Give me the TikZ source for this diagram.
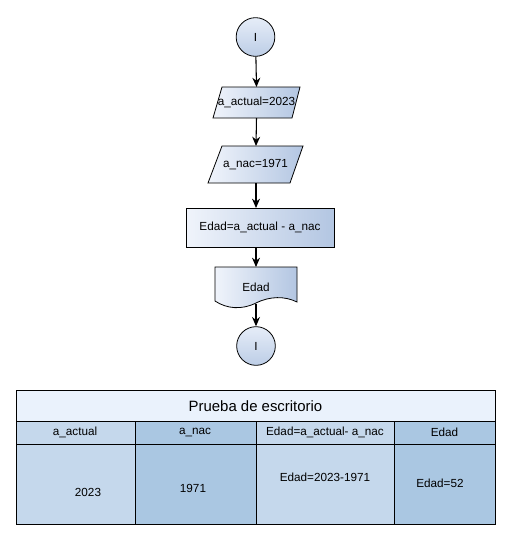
\documentclass[tikz,border=0pt]{standalone}
\usepackage{fontspec}
\setmainfont{Liberation Sans}
\usetikzlibrary{shapes.geometric,arrows.meta}
\definecolor{gl}{HTML}{F0F4FB}
\definecolor{gd}{HTML}{B3C6E2}
\definecolor{cl}{HTML}{E6EDF8}
\definecolor{cd}{HTML}{BCCDE6}
\definecolor{thead}{HTML}{EAF2FC}
\definecolor{tca}{HTML}{C5D8EC}
\definecolor{tcb}{HTML}{AAC7E2}
\begin{document}
\begin{tikzpicture}[x=0.75pt,y=-0.75pt,
  every node/.style={font=\fontsize{8.8}{10}\selectfont, inner sep=0pt},
  grad/.style={left color=gl, right color=gd, draw=black, line width=0.6pt},
  term/.style={circle, minimum size=29pt, top color=cl, bottom color=cd, draw=black, line width=0.6pt},
  flow/.style={-{Stealth[length=7pt,width=6pt]}, line width=0.8pt},
  cell/.style={draw=black, line width=0.6pt}]
\useasboundingbox (0,0) rectangle (510,539);
% terminals
\node[term] (t1) at (255.5,37) {I};
\node[term] (t2) at (256,346) {I};
% parallelogram 1
\shade[grad] (222,87) -- (300,87) -- (292,118) -- (213,118) -- cycle;
\node (p1) at (256.5,102.5) {a\_actual=2023};
\coordinate (p1t) at (256.5,87);
\coordinate (p1b) at (256.5,118);
% parallelogram 2
\shade[grad] (222,146) -- (303,146) -- (290,183) -- (208,183) -- cycle;
\node (p2) at (255.5,164.5) {a\_nac=1971};
\coordinate (p2t) at (256,146);
\coordinate (p2b) at (256,183);
% process
\shade[grad] (186,208) rectangle (334,247);
\node (r) at (260,227.5) {Edad=a\_actual - a\_nac};
\coordinate (rt) at (256,208);
\coordinate (rb) at (256,247);
% document
\shade[grad] (215,267) -- (297,267) -- (297,302)
  .. controls (285,296) and (270,296) .. (256,303)
  .. controls (242,310) and (227,309) .. (215,301) -- cycle;
\node (d) at (256,287) {Edad};
\coordinate (dt) at (256,267);
\coordinate (db) at (256,303.5);
% connectors
\draw[flow] (t1) -- (p1t);
\draw[flow] (p1b) -- (p2t);
\draw[flow] (p2b) -- (rt);
\draw[flow] (rb) -- (dt);
\draw[flow] (db) -- (t2);
% table
\fill[thead] (16,390) rectangle (495,421);
\fill[tca] (16,421) rectangle (135,524);
\fill[tcb] (135,421) rectangle (256,524);
\fill[tca] (256,421) rectangle (394,524);
\fill[tcb] (394,421) rectangle (495,524);
\draw[cell] (16,390) rectangle (495,524);
\draw[cell] (16,421) -- (495,421);
\draw[cell] (16,444) -- (495,444);
\draw[cell] (135,421) -- (135,524);
\draw[cell] (256,421) -- (256,524);
\draw[cell] (394,421) -- (394,524);
\node[font=\fontsize{11.2}{13}\selectfont] (title) at (255.5,406) {Prueba de escritorio};
\node (h1) at (75,432.5) {a\_actual};
\node (h2) at (195,432.5) {a\_nac};
\node (h3) at (325,432.5) {Edad=a\_actual- a\_nac};
\node (h4) at (444.5,432.5) {Edad};
\node (v1) at (88,492) {2023};
\node (v2) at (193,488) {1971};
\node (v3) at (325,477) {Edad=2023-1971};
\node (v4) at (440,483) {Edad=52};
\end{tikzpicture}
\end{document}
